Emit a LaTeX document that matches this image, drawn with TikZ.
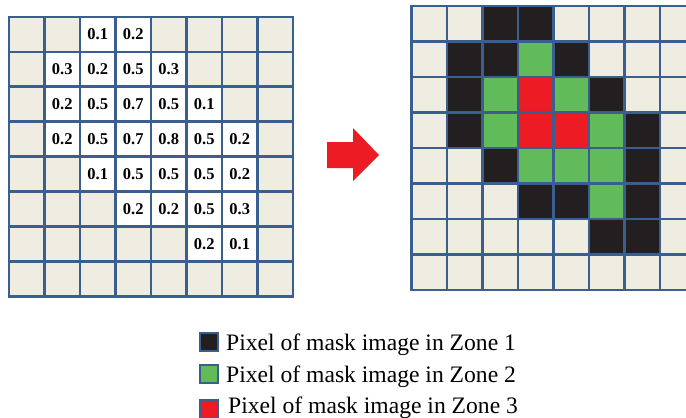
\documentclass[tikz,border=0pt]{standalone}
\usepackage{fontspec}
\setmainfont{Liberation Serif}
\definecolor{gridblue}{RGB}{58,95,143}
\definecolor{zoneE}{RGB}{239,236,226}
\definecolor{zoneK}{RGB}{35,31,32}
\definecolor{zoneG}{RGB}{98,187,90}
\definecolor{zoneR}{RGB}{237,28,36}
\begin{document}
\begin{tikzpicture}[
    x=1pt, y=-1pt,
    cell/.style={draw=gridblue, line width=2.6pt, fill=zoneE, minimum width=35.5pt, minimum height=35pt, inner sep=0pt, font=\fontsize{16.5}{17}\selectfont\bfseries},
    key/.style={draw=gridblue, line width=2pt, minimum size=18pt, inner sep=0pt},
    keytext/.style={anchor=base west, font=\fontsize{23.6}{26}\selectfont, inner sep=0pt}
]
    \clip (0,0) rectangle (686,418);
    \def\nov{-}
    % Left grid: mask values
    \foreach \row [count=\r] in {
        {-,-,0.1,0.2,-,-,-,-},
        {-,0.3,0.2,0.5,0.3,-,-,-},
        {-,0.2,0.5,0.7,0.5,0.1,-,-},
        {-,0.2,0.5,0.7,0.8,0.5,0.2,-},
        {-,-,0.1,0.5,0.5,0.5,0.2,-},
        {-,-,-,0.2,0.2,0.5,0.3,-},
        {-,-,-,-,-,0.2,0.1,-},
        {-,-,-,-,-,-,-,-}}
      \foreach \v [count=\c] in \row {
        \ifx\v\nov
          \node[cell] (L-\r-\c) at ({9+35.5*(\c-0.5)}, {17+34.9*(\r-0.5)}) {};
        \else
          \node[cell, fill=white] (L-\r-\c) at ({9+35.5*(\c-0.5)}, {17+34.9*(\r-0.5)}) {\v};
        \fi
      }
    % Right grid: zones
    \foreach \row [count=\r] in {
        {E,E,K,K,E,E,E,E},
        {E,K,K,G,K,E,E,E},
        {E,K,G,R,G,K,E,E},
        {E,K,G,R,R,G,K,E},
        {E,E,K,G,G,G,K,E},
        {E,E,E,K,K,G,K,E},
        {E,E,E,E,E,K,K,E},
        {E,E,E,E,E,E,E,E}}
      \foreach \z [count=\c] in \row {
        \node[cell, minimum height=35.5pt, fill=zone\z] (R-\r-\c) at ({411.5+35.5*(\c-0.5)}, {6+35.5*(\r-0.5)}) {};
      }
    % Arrow
    \fill[zoneR] (327,142) -- (353,142) -- (353,128) -- (379,155) -- (353,181) -- (353,168) -- (327,168) -- cycle;
    % Legend
    \node[key, fill=zoneK] (keyK) at (208.5,342) {};
    \node[keytext] (txtK) at (226,350) {Pixel of mask image in Zone 1};
    \node[key, fill=zoneG] (keyG) at (208.5,374) {};
    \node[keytext] (txtG) at (226,382) {Pixel of mask image in Zone 2};
    \node[key, fill=zoneR] (keyR) at (208.5,409) {};
    \node[keytext] (txtR) at (228,413) {Pixel of mask image in Zone 3};
\end{tikzpicture}
\end{document}
